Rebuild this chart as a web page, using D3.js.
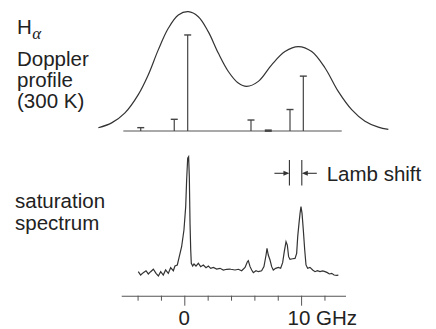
<!DOCTYPE html>
<html lang="en">
  <head>
    <meta charset="UTF-8" />
    <title>H-alpha Doppler profile and saturation spectrum</title>
    <style>
      body {
        margin: 0;
        background: #fff;
      }
      svg {
        display: block;
        font-family: "Liberation Sans", Arial, Helvetica, sans-serif;
      }
      .trace {
        fill: none;
        stroke: #333;
        stroke-width: 1.2;
      }
      .label {
        font-size: 20.5px;
        fill: #222;
      }
    </style>
  </head>
  <body>
    <div id="chart"></div>
    <script src="https://d3js.org/d3.v7.min.js"></script>
    <script>
      // Doppler profile (300 K), frequency in GHz, level relative to peak
      const dopplerFreq = [-7.36, -6.22, -5.08, -3.94, -3.08, -2.23, -1.37, -0.51, 0.34, 1.2, 2.05, 2.91, 3.77, 4.62, 5.34, 6.34, 7.48, 8.62, 9.76, 10.91, 12.05, 13.18, 14.33, 15.47, 16.61, 17.47];
      const dopplerLevel = [0.027, 0.068, 0.152, 0.305, 0.472, 0.68, 0.861, 0.972, 1.0, 0.958, 0.833, 0.653, 0.499, 0.402, 0.374, 0.416, 0.555, 0.666, 0.708, 0.666, 0.528, 0.332, 0.179, 0.082, 0.032, 0.013];

      // fine-structure components (stick spectrum)
      const stickFreq = [-3.73, -0.86, 0.29, 5.71, 7.19, 9.05, 10.19];
      const stickHeight = [0.028, 0.098, 0.805, 0.092, 0.003, 0.18, 0.46];
      const stickSpan = [-5.22, 13.48];

      // saturation spectrum
      const satFreq = [-3.94, -3.74, -3.51, -3.28, -3.08, -2.88, -2.65, -2.42, -2.22, -2.02, -1.8, -1.6, -1.37, -1.17, -0.94, -0.8, -0.6, -0.43, -0.23, -0.03, 0.12, 0.2, 0.29, 0.37, 0.43, 0.49, 0.55, 0.6, 0.72, 0.83, 1.0, 1.2, 1.4, 1.63, 1.86, 2.06, 2.26, 2.49, 2.77, 3.06, 3.34, 3.63, 3.91, 3.97, 4.34, 4.63, 4.91, 5.2, 5.4, 5.48, 5.63, 5.77, 5.91, 6.14, 6.34, 6.62, 6.82, 7.0, 7.08, 7.19, 7.34, 7.48, 7.62, 7.82, 8.05, 8.25, 8.42, 8.56, 8.71, 8.82, 8.93, 9.05, 9.28, 9.48, 9.62, 9.71, 9.82, 9.91, 9.99, 10.08, 10.19, 10.31, 10.42, 10.56, 10.76, 10.99, 11.19, 11.39, 11.62, 11.85, 12.05, 12.25, 12.42, 12.62, 12.82, 13.05, 13.19];
      const satLevel = [3.6, 0.8, 2.8, 4.4, 1.7, 3.6, 5.6, 2.2, 0, 3.6, 0.8, 5, 2.2, 6.9, 4.4, 8.3, 9.2, 16.1, 24.4, 38.3, 57.8, 80, 98.1, 99.4, 82.8, 43.9, 21.7, 10.6, 8.3, 10, 8.3, 10.6, 7.8, 9.2, 6.9, 8.3, 6.4, 7.2, 5.8, 6.4, 5, 5.6, 5.8, 5.6, 5, 5.6, 4.4, 7.2, 11.9, 12.8, 7.8, 5, 2.8, 4.4, 3.6, 4.4, 7.8, 17.5, 23.1, 17.5, 13.3, 7.8, 5, 6.4, 7.2, 6.4, 11.1, 20.3, 28.6, 25.8, 16.1, 13.9, 14.4, 14.7, 18.9, 32.8, 43.9, 52.2, 57.8, 52.2, 38.3, 21.7, 9.2, 6.4, 7.2, 5, 3.6, 4.4, 3.6, 4.2, 3.6, 2.8, 1.7, 2.2, 0.8, 0.6, 0.8];

      // axis
      const axisSpan = [-5.4, 13.8];
      const tickValues = [-4, -2, 0, 2, 4, 6, 8, 10, 12];
      const majorTicks = [0, 10];
      const tickLabels = ["0", "10 GHz"];

      // Lamb shift marker positions (GHz)
      const lambMarks = [9.0, 10.06];

      const width = 436;
      const height = 329;

      const svg = d3
        .select("#chart")
        .append("svg")
        .attr("width", width)
        .attr("height", height);

      const x = d3.scaleLinear().domain([0, 10]).range([184.3, 301.1]);
      const yTop = d3.scaleLinear().domain([0, 1]).range([131, 11.7]);
      const ySat = d3.scaleLinear().domain([0, 100]).range([276, 156]);

      // Doppler profile
      const dopplerLine = d3
        .line()
        .x((d, i) => x(dopplerFreq[i]))
        .y((d) => yTop(d))
        .curve(d3.curveCatmullRom);
      svg.append("path").attr("class", "trace").attr("d", dopplerLine(dopplerLevel));

      // stick baseline
      svg
        .append("line")
        .attr("x1", x(stickSpan[0]))
        .attr("x2", x(stickSpan[1]))
        .attr("y1", yTop(0))
        .attr("y2", yTop(0))
        .attr("stroke", "#555")
        .attr("stroke-width", 1.1);

      const sticks = svg.append("g").attr("stroke", "#444").attr("stroke-width", 1.2);
      stickFreq.forEach((f, i) => {
        const sx = x(f);
        const top = yTop(stickHeight[i]);
        sticks.append("line").attr("x1", sx).attr("x2", sx).attr("y1", yTop(0)).attr("y2", top);
        sticks
          .append("line")
          .attr("x1", sx - 3.5)
          .attr("x2", sx + 3.5)
          .attr("y1", top)
          .attr("y2", top)
          .attr("stroke-width", stickHeight[i] < 0.01 ? 2.5 : 1.4);
      });

      // saturation spectrum
      const satLine = d3
        .line()
        .x((d, i) => x(satFreq[i]))
        .y((d) => ySat(d));
      svg
        .append("path")
        .attr("class", "trace")
        .attr("stroke-width", 1.1)
        .attr("d", satLine(satLevel));

      // frequency axis
      const xAxisScale = x.copy().domain(axisSpan).range(axisSpan.map(x));
      const axisG = svg
        .append("g")
        .attr("transform", "translate(0,295.7)")
        .call(
          d3
            .axisBottom(xAxisScale)
            .tickValues(tickValues)
            .tickSize(5)
            .tickSizeOuter(0)
            .tickFormat("")
        );
      axisG.select(".domain").attr("stroke", "#555").attr("stroke-width", 1.1);
      axisG
        .selectAll(".tick line")
        .attr("stroke", "#555")
        .attr("y2", (d) => (majorTicks.includes(d) ? 10 : 5));

      svg
        .selectAll(".tick-label")
        .data(majorTicks)
        .enter()
        .append("text")
        .attr("class", "label")
        .attr("x", (d, i) => (i === 0 ? x(d) : x(d) - 13.5))
        .attr("y", 324.5)
        .attr("text-anchor", (d, i) => (i === 0 ? "middle" : "start"))
        .text((d, i) => tickLabels[i]);

      // Lamb shift annotation
      const lamb = svg.append("g").attr("stroke", "#333").attr("stroke-width", 1.1);
      lambMarks.forEach((f) => {
        lamb.append("line").attr("x1", x(f)).attr("x2", x(f)).attr("y1", 160).attr("y2", 185.5);
      });
      const ay = 173.3;
      const arrows = [
        [x(lambMarks[0]) - 15, x(lambMarks[0])],
        [x(lambMarks[1]) + 15, x(lambMarks[1])],
      ];
      arrows.forEach(([from, to]) => {
        const dir = to > from ? 1 : -1;
        lamb.append("line").attr("x1", from).attr("x2", to - dir * 4).attr("y1", ay).attr("y2", ay);
        lamb
          .append("path")
          .attr("stroke", "none")
          .attr("fill", "#333")
          .attr("d", `M${to},${ay} L${to - dir * 6},${ay - 2.5} L${to - dir * 6},${ay + 2.5} Z`);
      });
      svg
        .append("text")
        .attr("class", "label")
        .attr("x", 326.7)
        .attr("y", 180.7)
        .text("Lamb shift");

      // left-hand labels
      const hLabel = svg.append("text").attr("class", "label").attr("x", 17).attr("y", 34);
      hLabel.append("tspan").text("H");
      hLabel
        .append("tspan")
        .attr("dy", 4.5)
        .attr("dx", 0.5)
        .style("font-family", "'Liberation Serif', 'DejaVu Serif', serif")
        .style("font-style", "italic")
        .style("font-size", "17px")
        .text("α");

      const leftTop = ["Doppler", "profile", "(300 K)"];
      svg
        .selectAll(".ltop")
        .data(leftTop)
        .enter()
        .append("text")
        .attr("class", "label")
        .attr("x", 17)
        .attr("y", (d, i) => 66 + i * 21)
        .text((d) => d);

      const leftBottom = ["saturation", "spectrum"];
      svg
        .selectAll(".lbot")
        .data(leftBottom)
        .enter()
        .append("text")
        .attr("class", "label")
        .attr("x", 15)
        .attr("y", (d, i) => 208.3 + i * 21.5)
        .text((d) => d);
    </script>
  </body>
</html>
